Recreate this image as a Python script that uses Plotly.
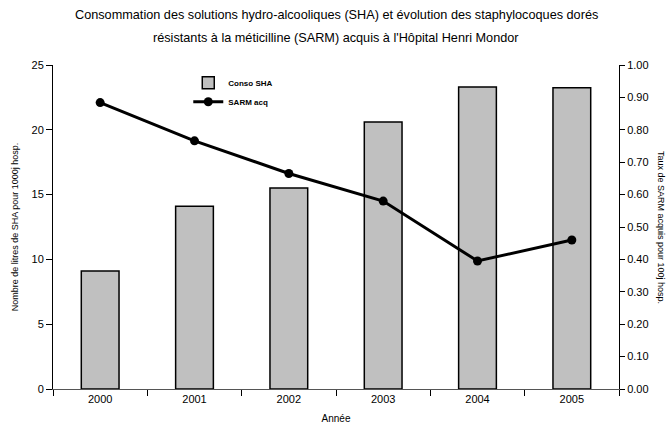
import plotly.graph_objects as go

years = ["2000", "2001", "2002", "2003", "2004", "2005"]
conso_sha = [9.1, 14.1, 15.5, 20.6, 23.3, 23.25]
sarm_acq = [0.884, 0.766, 0.665, 0.580, 0.395, 0.460]
left_ticks = [0, 5, 10, 15, 20, 25]
right_ticks = [0.0, 0.1, 0.2, 0.3, 0.4, 0.5, 0.6, 0.7, 0.8, 0.9, 1.0]
title_lines = [
    "Consommation des solutions hydro-alcooliques (SHA) et évolution des staphylocoques dorés",
    "résistants à la méticilline (SARM) acquis à l'Hôpital Henri Mondor",
]

FONT = "Liberation Sans, Arial, sans-serif"

fig = go.Figure()
fig.add_trace(go.Bar(
    x=years, y=conso_sha, name="Conso SHA",
    marker=dict(color="#C0C0C0", line=dict(color="black", width=1.5)),
    yaxis="y",
))
fig.add_trace(go.Scatter(
    x=years, y=sarm_acq, name="SARM acq", mode="lines+markers",
    line=dict(color="black", width=3),
    marker=dict(color="black", size=9),
    yaxis="y2",
))

annotations = []
for line, ypos in zip(title_lines, [1.154, 1.083]):
    annotations.append(dict(
        text=line, xref="paper", yref="paper", x=0.5, y=ypos,
        xanchor="center", yanchor="middle", showarrow=False,
        font=dict(family=FONT, size=12.7, color="black"),
    ))
annotations.append(dict(
    text="Taux de SARM acquis pour 100j hosp.",
    xref="paper", yref="paper", x=1.0, y=0.5, xshift=42,
    xanchor="center", yanchor="middle",
    textangle=90, showarrow=False,
    font=dict(family=FONT, size=9, color="black"),
))

fig.update_layout(
    width=669, height=434,
    margin=dict(l=53, r=50, t=65, b=45, autoexpand=False),
    paper_bgcolor="white", plot_bgcolor="white",
    font=dict(family=FONT, size=11, color="black"),
    bargap=0.6,
    showlegend=True,
    legend=dict(
        x=0.239, y=0.99, xanchor="left", yanchor="top",
        bgcolor="rgba(0,0,0,0)",
        font=dict(family=FONT, size=8, color="black", weight="bold"),
        itemwidth=30, tracegroupgap=0,
    ),
    xaxis=dict(
        type="category", automargin=False,
        showline=True, linecolor="#555", linewidth=1,
        ticks="outside", ticklen=6, tickcolor="black", tickson="boundaries",
        showgrid=False, zeroline=False,
        tickfont=dict(size=11),
        title=dict(text="Année", font=dict(size=10), standoff=10),
    ),
    yaxis=dict(
        range=[0, 25], tickvals=left_ticks, automargin=False,
        showline=True, linecolor="black", linewidth=1,
        ticks="outside", ticklen=6, tickcolor="black",
        showgrid=False, zeroline=False,
        tickfont=dict(size=11),
        title=dict(text="Nombre de litres de SHA pour 1000j hosp.", font=dict(size=9), standoff=11),
    ),
    yaxis2=dict(
        range=[0, 1], tickvals=right_ticks, tickformat=".2f", automargin=False,
        overlaying="y", side="right",
        showline=True, linecolor="black", linewidth=1,
        ticks="outside", ticklen=5, tickcolor="black",
        showgrid=False, zeroline=False,
        tickfont=dict(size=11),
    ),
    annotations=annotations,
)

fig.write_html("out.html", config={"displayModeBar": False},
               post_script="document.body.style.margin='0';")
